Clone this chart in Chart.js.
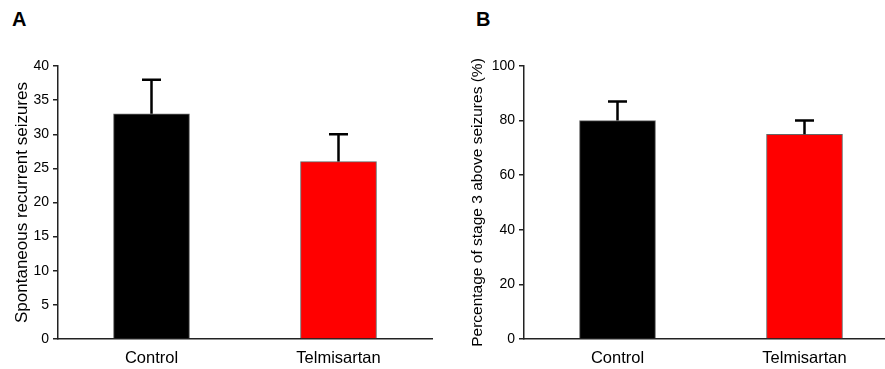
<!DOCTYPE html>
<html>
<head>
<meta charset="utf-8">
<script src="https://cdn.jsdelivr.net/npm/chart.js@4"></script>
<style>
  html, body { margin: 0; padding: 0; background: #fff; overflow: hidden; }
  body { width: 885px; height: 369px; position: relative; }
  .panel-label { position: absolute; top: 9px; font: bold 20px "Liberation Sans", Arial, sans-serif; line-height: 20px; color: #000; }
  .wrap { position: absolute; top: 0; height: 369px; }
</style>
</head>
<body>
<div class="panel-label" style="left:12px">A</div>
<div class="panel-label" style="left:476px">B</div>
<div class="wrap" style="left:0; width:445px"><canvas id="chartA"></canvas></div>
<div class="wrap" style="left:466px; width:432px"><canvas id="chartB"></canvas></div>
<script>
const categories = ['Control', 'Telmisartan'];
const barColors = ['#000000', '#ff0000'];

const seizuresMean = [33, 26];
const seizuresSem = [5, 4];

const stage3Mean = [80, 75];
const stage3Sem = [7, 5];

const FONT = '"Liberation Sans", Arial, sans-serif';

// draws upper half of the error bar with a cap, from the scale values
const errorBars = {
  id: 'errorBars',
  afterDatasetsDraw(chart) {
    const ctx = chart.ctx;
    const yScale = chart.scales.y;
    chart.data.datasets.forEach((ds, i) => {
      if (!ds.errors) return;
      chart.getDatasetMeta(i).data.forEach((bar, j) => {
        const top = yScale.getPixelForValue(ds.data[j] + ds.errors[j]);
        ctx.save();
        ctx.strokeStyle = '#000';
        ctx.lineWidth = 2.5;
        ctx.beginPath();
        ctx.moveTo(bar.x, bar.y);
        ctx.lineTo(bar.x, top);
        ctx.moveTo(bar.x - 9.5, top);
        ctx.lineTo(bar.x + 9.5, top);
        ctx.stroke();
        ctx.restore();
      });
    });
  }
};

function makeChart(id, values, errors, max, step, title, titleSize, titlePad, rightPad) {
  return new Chart(document.getElementById(id), {
    type: 'bar',
    data: {
      labels: categories,
      datasets: [{
        data: values,
        errors: errors,
        backgroundColor: barColors,
        borderColor: '#666',
        borderWidth: 1,
        barThickness: 76
      }]
    },
    options: {
      responsive: true,
      maintainAspectRatio: false,
      animation: false,
      layout: { padding: { top: 66, left: 0, right: rightPad, bottom: 0 } },
      plugins: { legend: { display: false }, tooltip: { enabled: false } },
      scales: {
        x: {
          grid: { display: false, drawTicks: false, tickLength: 0 },
          border: { display: true, color: '#222', width: 1.5 },
          ticks: { color: '#000', padding: 10, font: { family: FONT, size: 16.5 } },
          afterFit: s => { s.height = 30; }
        },
        y: {
          min: 0,
          max: max,
          grid: { drawOnChartArea: false, drawTicks: true, tickLength: 5, color: '#222', lineWidth: 1.5 },
          border: { display: true, color: '#222', width: 1.5 },
          ticks: { stepSize: step, color: '#000', padding: 4, font: { family: FONT, size: 14 } },
          title: { display: true, text: title, color: '#000', padding: { top: titlePad, bottom: 0 }, font: { family: FONT, size: titleSize } },
          afterFit: s => { s.width = 58; }
        }
      }
    },
    plugins: [errorBars]
  });
}

makeChart('chartA', seizuresMean, seizuresSem, 40, 5, 'Spontaneous recurrent seizures', 17, 12, 13);
makeChart('chartB', stage3Mean, stage3Sem, 100, 20, 'Percentage of stage 3 above seizures (%)', 15.5, 2, 0);
</script>
</body>
</html>
